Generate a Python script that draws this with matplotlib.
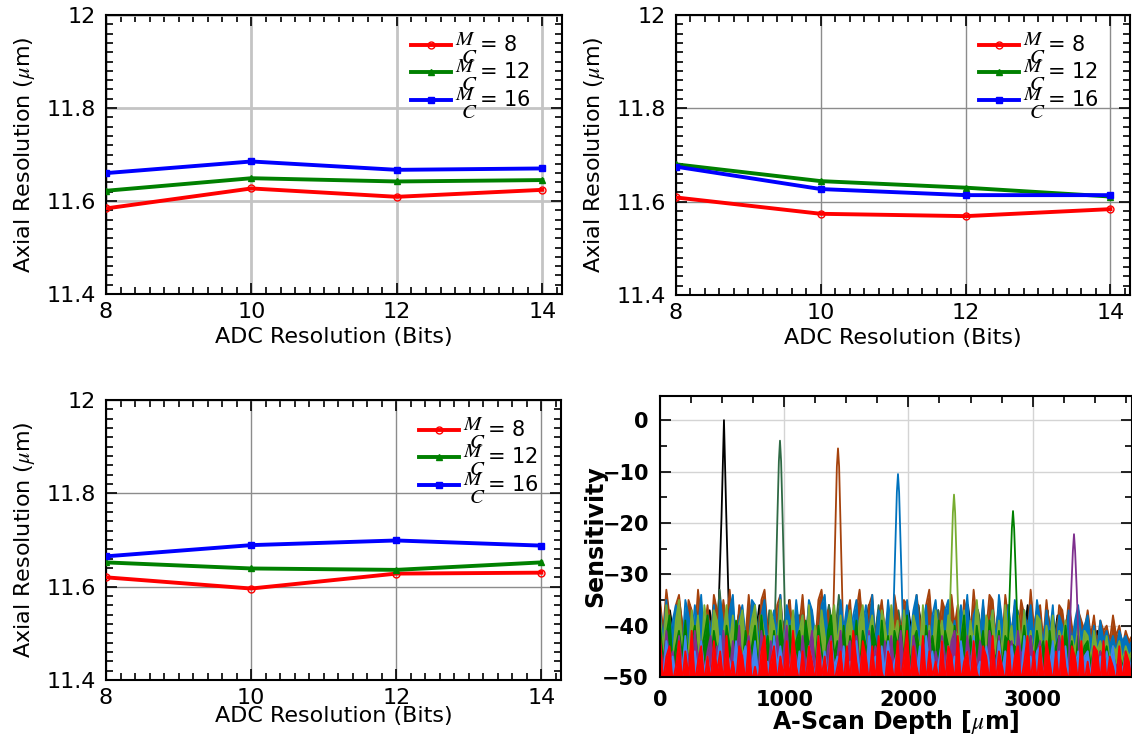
import numpy as np
import matplotlib
matplotlib.use("Agg")
import matplotlib.pyplot as plt
from matplotlib.ticker import AutoMinorLocator, FixedLocator, FixedFormatter

plt.rcParams['font.family'] = ['DejaVu Sans']
plt.rcParams['mathtext.fontset'] = 'stix'

# ---------------- data: axial resolution panels ----------------
adc_bits = [8, 10, 12, 14]
series_labels = [r'$\genfrac{}{}{0}{0}{M\;}{\;C}$= 8',
                 r'$\genfrac{}{}{0}{0}{M\;}{\;C}$= 12',
                 r'$\genfrac{}{}{0}{0}{M\;}{\;C}$= 16']

p1_mc8 = [11.584, 11.627, 11.609, 11.624]
p1_mc12 = [11.622, 11.649, 11.642, 11.645]
p1_mc16 = [11.660, 11.685, 11.667, 11.670]

p2_mc8 = [11.609, 11.574, 11.569, 11.584]
p2_mc12 = [11.680, 11.644, 11.630, 11.611]
p2_mc16 = [11.675, 11.627, 11.614, 11.614]

p3_mc8 = [11.620, 11.596, 11.628, 11.630]
p3_mc12 = [11.652, 11.639, 11.636, 11.652]
p3_mc16 = [11.665, 11.689, 11.699, 11.688]

ytick_vals = [11.4, 11.6, 11.8, 12.0]
ytick_labels = ['11.4', '11.6', '11.8', '12']
xtick_vals = [8, 10, 12, 14]

# ---------------- data: sensitivity panel (dB) ----------------
noise_black = [-38,-45,-37,-44,-39,-46,-36,-43,-38,-45, -37,-44,-36,-45,-38,-43,-37,-46,-39,-44,
               -36,-45,-38,-43,-37,-44,-35,-45,-38,-46, -37,-44,-39,-45,-36,-43,-38,-46,-37,-44,
               -38,-45,-36,-44,-37,-43,-39,-46,-38,-45, -37,-44,-36,-43,-38,-45,-37,-46,-39,-44,
               -38,-43,-36,-45,-37,-44,-39,-46,-38,-43, -37,-45,-38,-44,-36,-46,-39,-43,-37,-45,
               -38,-44,-39,-46,-38,-43,-40,-45,-41,-46, -42,-45,-43,-46,-42,-46]
noise_dkgreen = [-37,-44,-39,-45,-36,-43,-38,-46,-37,-44, -39,-45,-33,-44,-38,-43,-37,-45,-36,-44,
                 -38,-46,-37,-43,-39,-45,-36,-44,-38,-45, -37,-43,-39,-46,-36,-44,-34,-45,-38,-43,
                 -37,-46,-39,-44,-36,-45,-38,-43,-37,-44, -39,-46,-36,-45,-38,-44,-37,-43,-39,-45,
                 -36,-44,-38,-46,-37,-43,-39,-45,-38,-44, -36,-45,-37,-43,-39,-46,-38,-44,-37,-45,
                 -39,-43,-38,-46,-40,-44,-41,-45,-42,-46, -42,-45,-43,-46,-43,-46]
noise_brown = [-35,-41,-33,-38,-43,-36,-34,-40,-44,-35,-37,-42,-33,-39,-41,
               -36,-43,-34,-37,-42,-35,-40,-33,-41,-44,-36,-38,-42,-34,-40,
               -37,-43,-35,-33,-41,-39,-44,-36,-34,-42,-38,-35,-43,-37,-40,
               -34,-42,-36,-39,-44,-35,-33,-41,-37,-43,-36,-40,-34,-42,-38,
               -35,-44,-37,-33,-40,-42,-36,-34,-43,-39,-35,-41,-37,-44,-34,
               -38,-42,-35,-36,-43,-40,-34,-39,-44,-36,-33,-41,-38,-42,-35,
               -37,-43,-34,-40,-36,-44,-35,-38,-42,-33,-39,-43,-36,-41,-34,
               -35,-42,-37,-44,-34,-39,-41,-36,-43,-35,-38,-42,-33,-40,-37,
               -36,-43,-35,-41,-38,-44,-36,-37,-42,-35,-40,-43,-37,-39,-41,
               -37,-42,-38,-44,-39,-41,-40,-43,-38,-42,-40,-44,-41,-43,-42]
noise_blue = [-37,-43,-35,-44,-39,-36,-42,-45,-35,-38,-43,-36,-41,-34,-44,
              -38,-42,-36,-45,-35,-40,-43,-37,-34,-44,-39,-36,-42,-45,-35,
              -36,-43,-38,-35,-44,-40,-37,-42,-34,-45,-36,-39,-43,-35,-41,
              -38,-44,-35,-37,-42,-45,-36,-34,-43,-39,-37,-44,-35,-41,-36,
              -43,-38,-35,-45,-40,-36,-42,-34,-44,-37,-39,-43,-35,-41,-45,
              -36,-38,-44,-35,-42,-37,-34,-43,-40,-36,-45,-38,-35,-42,-44,
              -37,-35,-43,-39,-45,-36,-41,-34,-44,-38,-36,-42,-35,-45,-40,
              -37,-43,-34,-39,-44,-36,-42,-35,-38,-45,-37,-41,-36,-43,-35,
              -39,-44,-37,-42,-36,-45,-38,-40,-43,-37,-44,-39,-36,-42,-40,
              -38,-44,-40,-45,-39,-43,-41,-44,-42,-45,-41,-43,-42,-44,-43]
noise_lgreen = [-38,-45,-36,-42,-47,-39,-35,-44,-40,-46,-37,-43,-38,-47,-36,
                -41,-45,-37,-39,-46,-42,-36,-44,-38,-47,-40,-37,-45,-43,-39,
                -36,-46,-38,-42,-47,-37,-40,-44,-35,-45,-39,-43,-37,-46,-41,
                -38,-47,-36,-44,-40,-45,-37,-42,-46,-39,-36,-44,-38,-47,-40,
                -37,-43,-45,-39,-36,-46,-41,-38,-44,-47,-37,-40,-45,-36,-42,
                -39,-46,-37,-43,-47,-38,-41,-45,-36,-44,-40,-46,-37,-42,-39,
                -45,-38,-36,-47,-40,-43,-37,-46,-39,-44,-35,-42,-47,-38,-41,
                -37,-45,-39,-46,-36,-43,-40,-47,-38,-44,-37,-45,-41,-46,-38,
                -39,-47,-40,-44,-38,-46,-41,-43,-39,-47,-42,-45,-40,-46,-41,
                -42,-47,-41,-45,-43,-46,-42,-47,-44,-45,-43,-47,-44,-46,-45]
noise_green = [-40,-47,-42,-38,-48,-44,-41,-46,-39,-49,-43,-40,-47,-45,-42,
               -38,-48,-41,-45,-43,-49,-40,-44,-47,-39,-42,-48,-41,-46,-44,
               -40,-49,-38,-45,-42,-47,-41,-48,-39,-44,-46,-40,-49,-43,-41,
               -47,-39,-44,-42,-48,-40,-45,-49,-41,-38,-46,-43,-47,-40,-48,
               -42,-45,-39,-49,-41,-44,-47,-40,-43,-48,-39,-46,-42,-49,-41,
               -44,-40,-47,-38,-48,-43,-41,-46,-49,-40,-45,-42,-47,-39,-48,
               -41,-44,-49,-40,-46,-43,-38,-47,-42,-48,-40,-45,-41,-49,-39,
               -44,-47,-41,-48,-42,-46,-39,-49,-43,-45,-40,-47,-42,-48,-41,
               -45,-43,-49,-41,-47,-44,-42,-48,-40,-46,-43,-49,-42,-47,-44,
               -43,-48,-44,-49,-45,-47,-44,-48,-45,-49,-46,-48,-45,-49,-46]
noise_purple = [-43,-49,-41,-47,-45,-50,-42,-48,-44,-46,-50,-41,-47,-43,-49,
                -45,-42,-50,-44,-48,-41,-46,-49,-43,-47,-40,-50,-45,-42,-48,
                -44,-49,-41,-46,-50,-43,-47,-42,-48,-45,-40,-49,-44,-46,-50,
                -42,-48,-45,-41,-49,-43,-47,-50,-44,-42,-48,-46,-41,-49,-45,
                -43,-50,-42,-47,-45,-49,-41,-48,-44,-46,-50,-43,-47,-42,-49,
                -45,-41,-48,-44,-50,-42,-46,-49,-43,-47,-41,-50,-45,-48,-42,
                -46,-49,-43,-41,-48,-45,-50,-42,-47,-44,-49,-43,-46,-50,-41,
                -44,-48,-42,-49,-45,-47,-43,-50,-41,-46,-44,-49,-42,-48,-45,
                -43,-50,-44,-47,-46,-49,-42,-48,-45,-50,-43,-47,-44,-49,-46,
                -45,-50,-46,-48,-45,-49,-47,-50,-46,-48,-47,-50,-46,-49,-47]
noise_lblue = [-45,-50,-43,-48,-46,-50,-44,-49,-42,-50,-47,-45,-50,-43,-49,
               -46,-50,-44,-48,-42,-50,-45,-47,-50,-43,-49,-46,-44,-50,-48,
               -43,-50,-45,-49,-47,-50,-42,-48,-44,-50,-46,-49,-43,-50,-45,
               -48,-50,-44,-47,-50,-42,-49,-45,-50,-43,-48,-46,-50,-44,-49,
               -47,-50,-43,-49,-45,-50,-42,-48,-46,-50,-44,-49,-43,-50,-47,
               -45,-50,-48,-43,-50,-46,-49,-44,-50,-42,-48,-45,-50,-47,-43,
               -50,-44,-49,-46,-50,-43,-48,-45,-50,-42,-49,-47,-50,-44,-48,
               -46,-50,-43,-49,-45,-50,-44,-48,-47,-50,-42,-49,-46,-50,-45,
               -44,-50,-46,-48,-43,-50,-45,-49,-44,-50,-47,-48,-45,-50,-46,
               -45,-50,-44,-49,-46,-50,-45,-48,-44,-50,-46,-49,-45,-50,-46]
noise_red = [-42,-51,-46,-44,-51,-48,-43,-51,-45,-50,-41,-51,-47,-44,-51,
             -46,-51,-43,-49,-45,-51,-42,-50,-47,-51,-44,-46,-51,-43,-51,
             -48,-51,-45,-42,-51,-47,-44,-51,-46,-50,-43,-51,-41,-48,-51,
             -45,-51,-44,-47,-51,-42,-50,-46,-51,-43,-51,-48,-45,-51,-44,
             -51,-41,-47,-51,-43,-46,-51,-44,-51,-42,-49,-51,-45,-47,-51,
             -43,-51,-46,-41,-51,-44,-48,-51,-42,-51,-45,-50,-47,-51,-43,
             -51,-44,-46,-51,-42,-51,-47,-45,-51,-43,-49,-51,-44,-46,-51,
             -42,-51,-45,-48,-51,-43,-51,-46,-44,-51,-47,-42,-51,-45,-51,
             -44,-51,-43,-47,-51,-45,-51,-42,-48,-51,-44,-46,-51,-43,-51,
             -47,-51,-44,-45,-51,-43,-51,-46,-48,-51,-44,-51,-45,-47,-51]

# peak samples (depth in um, level in dB)
peak_black_x = [470, 495, 515, 533, 555]
peak_black_y = [-38, -19, 0, -18, -38]
peak_dkgreen_x = [924, 944, 957, 966, 975, 988, 1008]
peak_dkgreen_y = [-40, -20, -8, -4, -8, -20, -40]
peak_brown_x = [1391, 1411, 1424, 1433, 1442, 1455, 1475]
peak_brown_y = [-42, -22, -9, -5.5, -9, -22, -42]
peak_blue_x = [1874, 1894, 1907, 1916, 1925, 1938, 1958]
peak_blue_y = [-42, -25, -14, -10.5, -14, -25, -42]
peak_lgreen_x = [2325, 2345, 2358, 2367, 2376, 2389, 2409]
peak_lgreen_y = [-44, -28, -18, -14.5, -18, -28, -44]
peak_green_x = [2800, 2820, 2833, 2842, 2851, 2864, 2884]
peak_green_y = [-45, -30, -21, -17.7, -21, -30, -45]
peak_purple_x = [3291, 3311, 3324, 3333, 3342, 3355, 3375]
peak_purple_y = [-47, -33, -25.5, -22.2, -25.5, -33, -47]

depth_max = 3800

W, H = 1132, 746
fig = plt.figure(figsize=(W / 100, H / 100), dpi=100)


def fx(px):
    return px / W


def fy(py):
    return 1 - py / H


def res_panel(rect, d8, d12, d16, grid_color, grid_lw, leg_anchor, xlab_y):
    ax = fig.add_axes(rect)
    ax.plot(adc_bits, d8, color='#ff0000', lw=2.8, marker='o', ms=5,
            mfc='none', mec='#ff0000', mew=1.0, label=series_labels[0], zorder=3)
    ax.plot(adc_bits, d12, color='#008000', lw=2.8, marker='^', ms=5,
            label=series_labels[1], zorder=3)
    ax.plot(adc_bits, d16, color='#0000ff', lw=2.8, marker='s', ms=4.5,
            label=series_labels[2], zorder=3)
    ax.set_xlim(8, 14.27)
    ax.set_ylim(11.4, 12.0)
    ax.xaxis.set_major_locator(FixedLocator(xtick_vals))
    ax.yaxis.set_major_locator(FixedLocator(ytick_vals))
    ax.yaxis.set_major_formatter(FixedFormatter(ytick_labels))
    ax.xaxis.set_minor_locator(AutoMinorLocator(10))
    ax.yaxis.set_minor_locator(AutoMinorLocator(10))
    ax.tick_params(which='both', direction='in', top=True, right=True,
                   width=1.2, labelsize=16, colors='black')
    ax.tick_params(which='major', length=8)
    ax.tick_params(which='minor', length=5)
    ax.tick_params(axis='y', pad=7)
    ax.tick_params(axis='x', pad=6)
    for s in ax.spines.values():
        s.set_linewidth(1.5)
    ax.grid(True, which='major', color=grid_color, lw=grid_lw, zorder=0)
    ax.set_axisbelow(True)
    ax.set_ylabel(r'Axial Resolution ($\mu$m)', fontsize=16)
    ax.set_xlabel('ADC Resolution (Bits)', fontsize=16)
    ax.yaxis.set_label_coords(-0.151, 0.5)
    ax.xaxis.set_label_coords(0.5, xlab_y)
    ax.legend(loc='upper right', bbox_to_anchor=leg_anchor, frameon=False,
              fontsize=15, handlelength=1.9, handletextpad=0.2,
              labelspacing=-0.36, borderaxespad=0.0)
    return ax


res_panel([fx(106), fy(294), fx(456), (294 - 15) / H], p1_mc8, p1_mc12, p1_mc16,
          '#c4c4c4', 2.0, (0.95, 0.975), -0.118)
res_panel([fx(676), fy(295), fx(454), (295 - 15) / H], p2_mc8, p2_mc12, p2_mc16,
          '#8c8c8c', 1.0, (0.95, 0.975), -0.118)
res_panel([fx(106), fy(680), fx(455), (680 - 400) / H], p3_mc8, p3_mc12, p3_mc16,
          '#8c8c8c', 1.0, (0.97, 0.975), -0.093)

# ---------------- sensitivity panel ----------------
ax4 = fig.add_axes([fx(660), fy(677), fx(472), (677 - 396) / H])

series = [
    (noise_black, peak_black_x, peak_black_y, '#000000'),
    (noise_dkgreen, peak_dkgreen_x, peak_dkgreen_y, '#2f6a45'),
    (noise_brown, peak_brown_x, peak_brown_y, '#a5420c'),
    (noise_blue, peak_blue_x, peak_blue_y, '#0072bd'),
    (noise_lgreen, peak_lgreen_x, peak_lgreen_y, '#77ac30'),
    (noise_green, peak_green_x, peak_green_y, '#008000'),
    (noise_purple, peak_purple_x, peak_purple_y, '#7e2f8e'),
    (noise_lblue, [], [], '#3d85f0'),
    (noise_red, [], [], '#ff0000'),
]
for noise, px_, py_, col in series:
    xs = np.linspace(0, depth_max, len(noise))
    ys = np.array(noise, dtype=float)
    if px_:
        keep = (xs < px_[0]) | (xs > px_[-1])
        nx, ny = xs[keep], ys[keep]
        xs = np.concatenate([nx, px_])
        ys = np.concatenate([ny, py_])
        order = np.argsort(xs)
        xs, ys = xs[order], ys[order]
    else:
        nx, ny = xs, ys
    # dense noise floor renders as a solid band below its jagged top
    ax4.fill_between(nx, ny, -52, color=col, lw=0, zorder=2)
    ax4.plot(xs, ys, color=col, lw=1.3, zorder=2)

ax4.set_xlim(0, depth_max)
ax4.set_ylim(-50, 4.7)
ax4.set_xticks([0, 1000, 2000, 3000])
ax4.set_yticks([-50, -40, -30, -20, -10, 0])
ax4.xaxis.set_minor_locator(AutoMinorLocator(4))
ax4.yaxis.set_minor_locator(AutoMinorLocator(2))
ax4.tick_params(which='both', direction='in', top=True, right=True, width=1.2,
                labelsize=15)
ax4.tick_params(which='major', length=8)
ax4.tick_params(which='minor', length=5)
ax4.tick_params(axis='y', pad=8)
ax4.tick_params(axis='x', pad=9)
for lab in ax4.get_xticklabels() + ax4.get_yticklabels():
    lab.set_fontweight('bold')
for s in ax4.spines.values():
    s.set_linewidth(1.5)
ax4.grid(True, which='major', color='#d4d4d4', lw=1.0, zorder=0)
ax4.set_axisbelow(True)
ax4.set_ylabel('Sensitivity', fontsize=17, fontweight='bold')
ax4.set_xlabel(r'A-Scan Depth [$\mu$m]', fontsize=17, fontweight='bold')
ax4.yaxis.set_label_coords(-0.112, 0.5)
ax4.xaxis.set_label_coords(0.5, -0.11)

fig.savefig('out.png', dpi=100)
